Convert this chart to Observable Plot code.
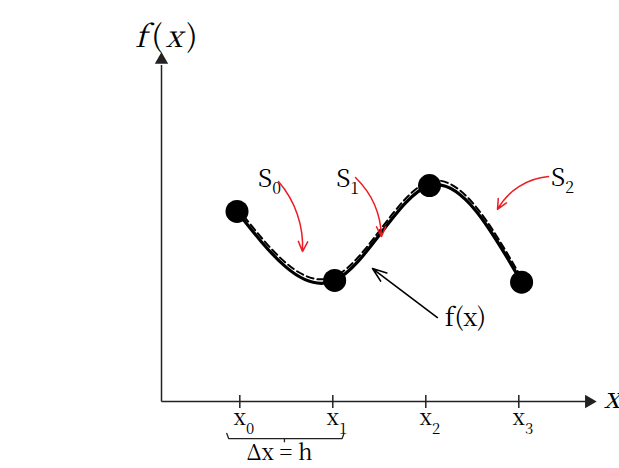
<!DOCTYPE html>
<html><head><meta charset="utf-8">
<script src="https://cdn.jsdelivr.net/npm/d3@7"></script>
<script src="https://cdn.jsdelivr.net/npm/@observablehq/plot@0.6"></script>
<style>body{margin:0;background:#fff} svg{display:block}</style>
</head><body><div id="chart"></div>
<script>
// knots (x index, f(x) and spline S(x) values)
const knotX = [-0.03, 1.02, 2.04, 3.03];
const fY = [5.59, 3.56, 6.35, 3.51];
const sY = [5.71, 3.68, 6.47, 3.63];
// x-axis ticks
const tickPos = [0, 1, 2, 3];
const tickLabels = ["x0", "x1", "x2", "x3"];
// axes extent
const originX = -0.842, xEnd = 3.814, yTop = 10;
// segment labels
const segLabels = ["S0", "S1", "S2"];
const segLabelX = [0.32, 1.16, 3.47];
const segLabelY = [6.32, 6.32, 6.35];
// red arrows (label -> segment)
const redX1 = [0.416, 1.244, 3.319];
const redY1 = [6.47, 6.59, 6.62];
const redX2 = [0.674, 1.523, 2.771];
const redY2 = [4.41, 4.85, 5.65];
const redBend = [22, 22, -28];
// f(x) pointer
const fArrow = {x1: 2.125, y1: 2.47, x2: 1.427, y2: 3.91};
const fLabel = {x: 2.427, y: 2.235, text: "f(x)"};
// brace under x0..x1
const braceX = [-0.14, -0.12, 1.10, 1.12];
const braceY = [-0.94, -1.09, -1.09, -0.94];
const braceMid = {x: 0.48, y1: -1.09, y2: -1.2};
const hLabel = {x: 0.427, y: -1.72, text: "Δx = h"};

const SERIF = "Noto Serif CJK SC";
const knots = knotX.map((x, i) => ({x, f: fY[i], s: sY[i]}));
const reds = segLabels.map((s, i) => ({x1: redX1[i], y1: redY1[i], x2: redX2[i], y2: redY2[i], bend: redBend[i]}));
const RED = "#ed1c24";
const AX = "#222";

const arrowMarks = reds.map(d => Plot.arrow([d], {x1: "x1", y1: "y1", x2: "x2", y2: "y2", bend: d.bend, stroke: RED, strokeWidth: 1.5, headLength: 11, headAngle: 50}));

const chart = Plot.plot({
  width: 619, height: 468,
  marginLeft: 161, marginRight: 25, marginTop: 61, marginBottom: 67,
  x: {domain: [originX, xEnd], axis: null},
  y: {domain: [0, yTop], axis: null},
  style: {background: "white", color: "black", overflow: "visible", fontFamily: SERIF},
  marks: [
    // axes
    Plot.link([0], {x1: originX, x2: originX, y1: 0, y2: yTop - 0.1, stroke: AX, strokeWidth: 1.5}),
    Plot.link([0], {x1: originX, x2: xEnd - 0.08, y1: 0, y2: 0, stroke: AX, strokeWidth: 1.5}),
    Plot.dot([0], {x: originX, y: yTop + 0.05, symbol: "triangle", r: 4, fill: AX, stroke: AX}),
    Plot.dot([0], {x: xEnd - 0.06, y: 0, symbol: "triangle", r: 4, rotate: 90, fill: AX, stroke: AX}),
    Plot.link(tickPos, {x1: d => d, x2: d => d, y1: -0.19, y2: 0.19, stroke: AX, strokeWidth: 1.5}),
    Plot.text(tickPos, {x: d => d, y: -0.7, text: (d, i) => tickLabels[i], fontSize: 22, fontFamily: SERIF, lineAnchor: "bottom", dx: 4}),
    Plot.text(["x"], {x: 4.0, y: -0.2, text: d => d, fontSize: 29, fontFamily: SERIF, fontStyle: "italic", lineAnchor: "bottom"}),
    Plot.text(["f(x)"], {x: originX + 0.05, y: 10.44, text: d => d, fontSize: 30, fontFamily: SERIF, fontStyle: "italic", lineAnchor: "bottom"}),
    // brace
    Plot.line(braceX.map((x, i) => ({x, y: braceY[i]})), {x: "x", y: "y", stroke: AX, strokeWidth: 1.3}),
    Plot.link([braceMid], {x1: "x", x2: "x", y1: "y1", y2: "y2", stroke: AX, strokeWidth: 1.3}),
    Plot.text([hLabel], {x: "x", y: "y", text: "text", fontSize: 22, fontFamily: SERIF, lineAnchor: "bottom"}),
    // curves
    Plot.line(knots, {x: "x", y: "s", curve: "natural", stroke: "black", strokeWidth: 2, strokeDasharray: "7,4"}),
    Plot.line(knots, {x: "x", y: "f", curve: "natural", stroke: "black", strokeWidth: 3.2}),
    Plot.dot(knots, {x: "x", y: "f", r: 11.5, fill: "black"}),
    // labels & arrows
    Plot.text(segLabels, {x: (d, i) => segLabelX[i], y: (d, i) => segLabelY[i], text: d => d, fontSize: 25, fontFamily: SERIF, lineAnchor: "bottom"}),
    ...arrowMarks,
    Plot.arrow([fArrow], {x1: "x1", y1: "y1", x2: "x2", y2: "y2", stroke: "black", strokeWidth: 1.6, headLength: 14, headAngle: 40}),
    Plot.text([fLabel], {x: "x", y: "y", text: "text", fontSize: 25, fontFamily: SERIF, lineAnchor: "bottom"})
  ]
});
document.getElementById("chart").appendChild(chart);

// typographic touches: subscripts and math-italic f(x)
d3.select(chart).selectAll("text").each(function () {
  const t = this.textContent;
  const sel = d3.select(this);
  const m = /^([Sx])(\d)$/.exec(t);
  if (m) {
    const big = m[1] === "S";
    sel.text(null);
    sel.append("tspan").text(m[1]);
    sel.append("tspan").attr("font-size", big ? 16 : 15).attr("dy", big ? 7 : 9).text(m[2]);
  } else if (t === "f(x)" && this.parentNode.getAttribute("font-style") === "italic") {
    sel.text(null);
    sel.append("tspan").text("f");
    sel.append("tspan").attr("font-style", "normal").attr("dx", 5).text("(");
    sel.append("tspan").attr("dx", 3).text("x");
    sel.append("tspan").attr("font-style", "normal").attr("dx", 4).text(")");
  }
});
</script>
</body></html>
